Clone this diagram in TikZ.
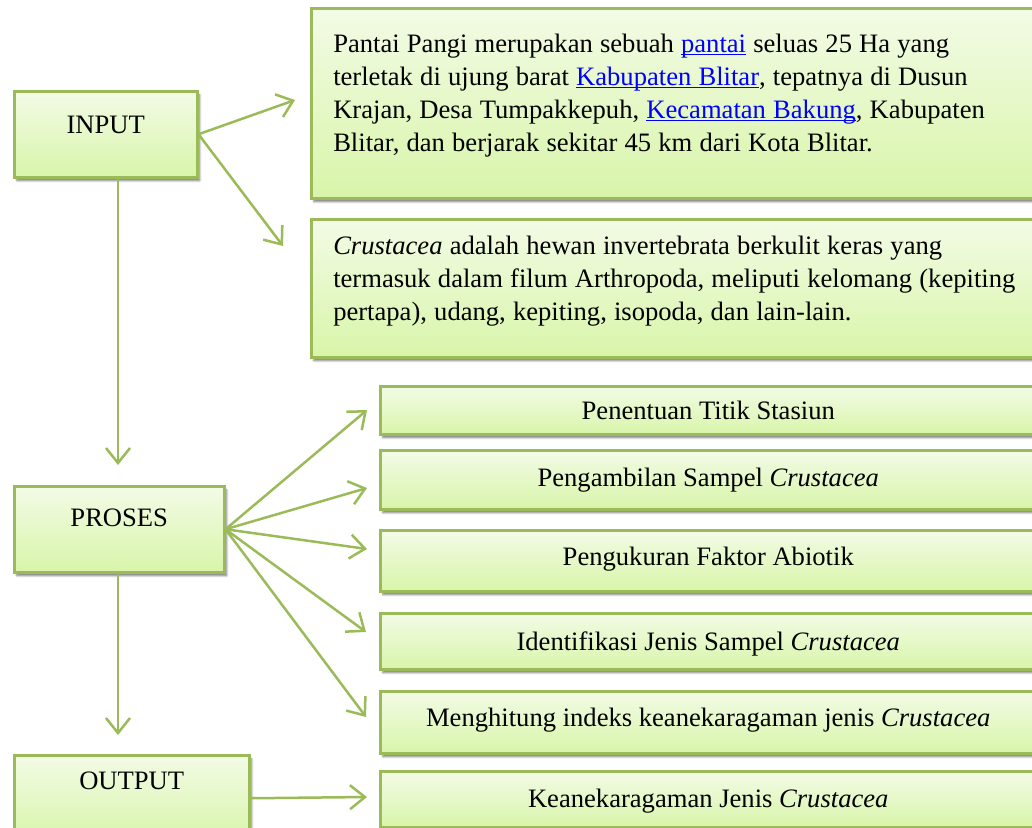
\documentclass[tikz,border=0pt]{standalone}
\usepackage{fontspec}
\setmainfont{Liberation Serif}
\usetikzlibrary{arrows.meta}
\usetikzlibrary{shadows.blur}

\definecolor{boxline}{HTML}{9BBB59}
\definecolor{boxtop}{HTML}{F3FBE6}
\definecolor{boxbottom}{HTML}{D8F5A9}
\definecolor{linkblue}{HTML}{0000FF}
\newcommand{\weblink}[1]{{\color{linkblue}\setbox0=\hbox{#1}\rlap{\rule[-3pt]{\wd0}{1.3pt}}\box0}}
\newcommand{\tightspace}{\spaceskip=0.27em\relax}

\begin{document}
\begin{tikzpicture}[x=1pt, y=-1pt, font=\fontsize{26.6}{33}\selectfont,
                    box/.style={rectangle, draw=boxline, line width=2.5pt,
                                top color=boxtop, bottom color=boxbottom,
                                inner sep=0pt, anchor=north west,
                                blur shadow={shadow xshift=2.5pt, shadow yshift=-3.5pt,
                                             shadow blur steps=6, shadow opacity=50}},
                    wide box/.style={box, text width=760pt, inner xsep=22pt, align=left,
                                     execute at begin node=\tightspace},
                    step box/.style={box, minimum width=656pt},
                    every edge/.style={draw=boxline, line width=2.5pt,
                                       -{Straight Barb[length=15pt, width=24pt]}}]

  \clip (0,0) rectangle (1032,827);

  % left column
  \node[box, minimum width=183pt, text height=42pt, text depth=44pt] (input) at (13,90) {INPUT};
  \node[box, minimum width=210pt, text height=40pt, text depth=46pt] (proses) at (13,485) {PROSES};
  \node[box, minimum width=235pt, text height=34pt, text depth=52pt] (output) at (13,754) {OUTPUT};

  % input boxes
  \node[wide box, text height=44pt, text depth=146pt] (pantai) at (310,7)
    {Pantai Pangi merupakan sebuah \weblink{pantai} seluas 25 Ha yang\\
     terletak di ujung barat \weblink{Kabupaten Blitar}, tepatnya di Dusun\\
     Krajan, Desa Tumpakkepuh, \weblink{Kecamatan Bakung}, Kabupaten\\
     Blitar, dan berjarak sekitar 45 km dari Kota Blitar.};
  \node[wide box, text height=35pt, text depth=103pt] (crustacea) at (310,218)
    {\textit{Crustacea} adalah hewan invertebrata berkulit keras yang\\
     termasuk dalam filum Arthropoda, meliputi kelomang (kepiting\\
     pertapa), udang, kepiting, isopoda, dan lain-lain.};

  % proses boxes
  \node[step box, text height=33pt, text depth=15pt] (titik) at (379,385) {Penentuan Titik Stasiun};
  \node[step box, text height=36pt, text depth=23pt] (sampel) at (379,449) {Pengambilan Sampel \textit{Crustacea}};
  \node[step box, text height=35pt, text depth=26pt] (abiotik) at (379,529) {Pengukuran Faktor Abiotik};
  \node[step box, text height=37pt, text depth=19pt] (identifikasi) at (379,612) {Identifikasi Jenis Sampel \textit{Crustacea}};
  \node[step box, text height=35pt, text depth=27pt] (indeks) at (379,690) {Menghitung indeks keanekaragaman jenis \textit{Crustacea}};
  \node[step box, text height=36pt, text depth=20pt] (hasil) at (379,770) {Keanekaragaman Jenis \textit{Crustacea}};

  % free arrow ends
  \coordinate (in1) at (295,100);
  \coordinate (in2) at (283,246);
  \coordinate (down1) at (118,465);
  \coordinate (down2) at (118,735);
  \coordinate (pr1) at (367,410);
  \coordinate (pr2) at (367,488);
  \coordinate (pr3) at (367,549);
  \coordinate (pr4) at (366,632);
  \coordinate (pr5) at (366,717);
  \coordinate (out1) at (367,797);

  \path (input.east) edge (in1);
  \path (input.east) edge (in2);
  \path (input.south -| down1) edge (down1);
  \path (proses.east) edge (pr1);
  \path (proses.east) edge (pr2);
  \path (proses.east) edge (pr3);
  \path (proses.east) edge (pr4);
  \path (proses.east) edge (pr5);
  \path (proses.south -| down2) edge (down2);
  \path (output.east) edge (out1);

\end{tikzpicture}
\end{document}
